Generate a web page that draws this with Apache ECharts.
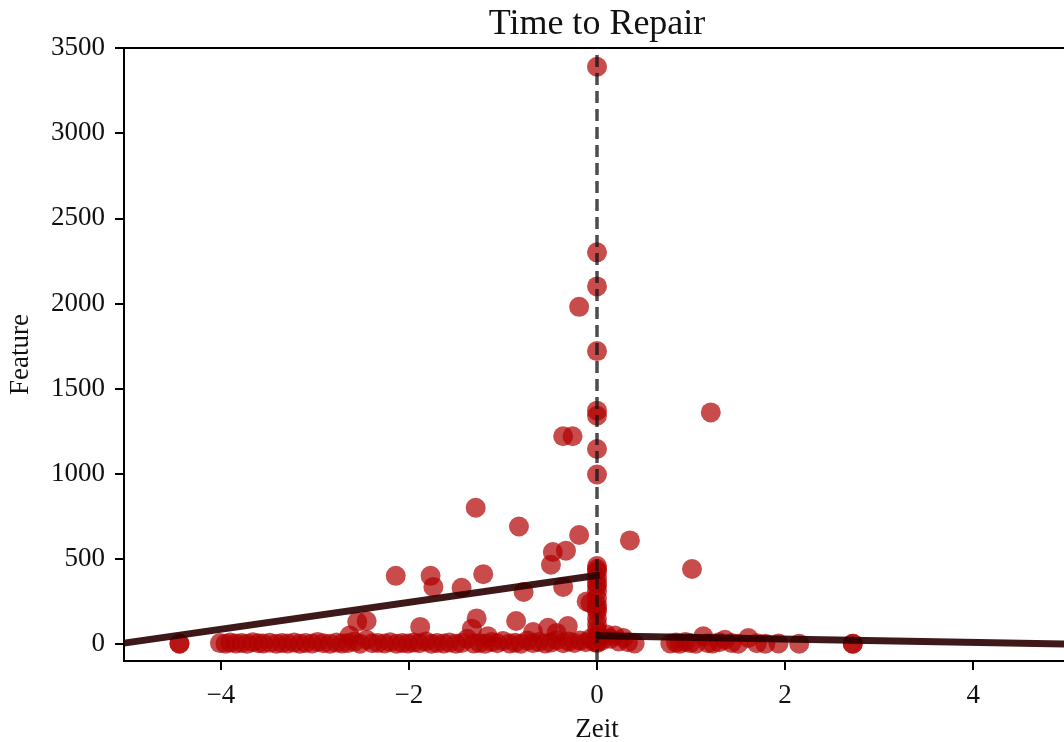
<!DOCTYPE html>
<html>
<head>
<meta charset="utf-8">
<script src="https://cdn.jsdelivr.net/npm/echarts@6/dist/echarts.min.js"></script>
<style>html,body{margin:0;padding:0;background:#fff}#c{width:1064px;height:742px}</style>
</head>
<body>
<div id="c"></div>
<script>
// ---- data ----
const titleText = 'Time to Repair';
const xLabel = 'Zeit';
const yLabel = 'Feature';

// scatter points (Zeit, Feature)
const pointsX = [
  0, 0, 0, -0.19, 0, 0, 0, 1.21, -0.36, -0.26, 0, 0,
  -1.29, -0.83, -0.19, 0.35, 1.01, -0.47, -0.33, -0.49,
  -2.14, -1.77, -1.74, -1.21, -1.44, -0.36, -0.78, -0.11, -0.07,
  -2.55, -2.45, -1.28, -1.88, -0.86, -1.33, -1.16, -0.68, -0.52, -0.31, -0.43, -2.63,
  0, 0, 0, 0, 0, 0, 0, 0, 0, 0, 0, 0, 0, 0, 0, 0, 0, 0,
  0.03, 0.05, 0.1, 0.14, 0.19, 0.23, 0.28, 0.33, 0.4,
  0.78, 0.84, 0.88, 0.94, 0.99, 1.05, 1.13, 1.18, 1.23, 1.3, 1.36, 1.43, 1.5, 1.61, 1.7, 1.79, 1.93, 2.15, 2.72, 2.72,
  -4.44, -4.44, -4.01, -3.95, -3.9, -3.84, -3.78, -3.72, -3.66, -3.6, -3.55, -3.48, -3.41, -3.35, -3.29, -3.22,
  -3.16, -3.1, -3.03, -2.97, -2.91, -2.84, -2.77, -2.71, -2.65, -2.58, -2.52, -2.45, -2.39, -2.33, -2.26,
  -2.2, -2.13, -2.07, -2.01, -1.95, -1.89, -1.82, -1.76, -1.7, -1.63, -1.57, -1.5, -1.44, -1.38, -1.31,
  -1.25, -1.19, -1.12, -1.06, -1.0, -0.93, -0.87, -0.81, -0.74, -0.68, -0.62, -0.55, -0.49, -0.43,
  -0.36, -0.3, -0.24, -0.18, -0.12, -0.07, -0.03
];
const pointsY = [
  3390, 2300, 2100, 1980, 1720, 1370, 1340, 1360, 1220, 1220, 1145, 995,
  800, 690, 640, 608, 440, 540, 548, 465,
  400, 400, 335, 410, 330, 335, 305, 250, 240,
  130, 135, 150, 100, 135, 90, 45, 70, 95, 105, 65, 50,
  458, 440, 425, 390, 360, 340, 310, 270, 230, 210, 190, 150, 115, 80, 50, 25, 12, 5,
  40, 20, 55, 30, 50, 15, 35, 10, 3,
  3, 8, 2, 12, 5, 2, 45, 4, 3, 10, 25, 6, 2, 35, 4, 2, 3, 2, 1, 2,
  2, 3, 5, 2, 8, 3, 6, 2, 10, 4, 3, 7, 2, 5, 3, 9,
  2, 6, 3, 12, 4, 2, 8, 3, 5, 14, 2, 25, 4, 6, 3,
  10, 2, 5, 3, 8, 4, 15, 2, 6, 3, 9, 2, 5, 30, 3,
  6, 2, 12, 4, 18, 3, 7, 2, 20, 5, 12, 3, 8, 22,
  4, 15, 6, 20, 10, 30, 12
];

// fitted lines (left and right of the cutoff)
const fitLeftX = [-5.03, 0.03];
const fitLeftY = [5, 405];
const fitRightX = [0, 5.03];
const fitRightY = [48, -1];

// cutoff line
const cutoffX = [0, 0];
const cutoffY = [-100, 3500];

// axis settings
const xMin = -5.03, xMax = 5.03;
const xTicks = [-4, -2, 0, 2, 4];
const yMin = -100, yMax = 3500;
const yTicks = [0, 500, 1000, 1500, 2000, 2500, 3000, 3500];

const zip = (a, b) => a.map((v, i) => [v, b[i]]);
const fmtNum = v => (v < 0 ? '\u2212' + Math.abs(v) : String(v));

const FONT = '"Liberation Serif", "DejaVu Serif", serif';

const chart = echarts.init(document.getElementById('c'), null, {renderer: 'canvas'});
chart.setOption({
  animation: false,
  backgroundColor: '#ffffff',
  title: {
    text: titleText, left: 592, top: 2, textAlign: 'center',
    textStyle: {fontFamily: FONT, fontSize: 36, fontWeight: 'normal', color: '#111'}
  },
  grid: {left: 124, top: 48, width: 946, height: 613, outerBoundsMode: 'none', containLabel: false,
         show: true, borderColor: '#000', borderWidth: 2, backgroundColor: 'transparent'},
  xAxis: {
    type: 'value', min: xMin, max: xMax,
    name: xLabel, nameLocation: 'middle', nameGap: 55,
    nameTextStyle: {fontFamily: FONT, fontSize: 27, color: '#111'},
    axisLine: {onZero: false, lineStyle: {color: '#000', width: 2}},
    axisTick: {show: true, length: 9, customValues: xTicks, lineStyle: {color: '#000', width: 2}},
    axisLabel: {
      fontFamily: FONT, fontSize: 27, color: '#111', margin: 21,
      customValues: xTicks, formatter: v => fmtNum(v)
    },
    splitLine: {show: false}
  },
  yAxis: {
    type: 'value', min: yMin, max: yMax,
    name: yLabel, nameLocation: 'middle', nameGap: 90,
    nameTextStyle: {fontFamily: FONT, fontSize: 27, color: '#111'},
    axisLine: {onZero: false, lineStyle: {color: '#000', width: 2}},
    axisTick: {show: true, length: 9, customValues: yTicks, lineStyle: {color: '#000', width: 2}},
    axisLabel: {
      fontFamily: FONT, fontSize: 27, color: '#111', margin: 19, padding: [5, 0, 0, 0],
      customValues: yTicks, formatter: v => fmtNum(v)
    },
    splitLine: {show: false}
  },
  series: [
    {
      type: 'scatter', data: zip(pointsX, pointsY), symbolSize: 20,
      itemStyle: {color: '#b00000', opacity: 0.7}, z: 2, silent: true
    },
    {
      type: 'line', data: zip(fitLeftX, fitLeftY), showSymbol: false, symbol: 'none',
      lineStyle: {color: '#2a0000', width: 7, opacity: 0.9, cap: 'butt'}, z: 4, silent: true
    },
    {
      type: 'line', data: zip(fitRightX, fitRightY), showSymbol: false, symbol: 'none',
      lineStyle: {color: '#2a0000', width: 7, opacity: 0.9, cap: 'butt'}, z: 4, silent: true
    },
    {
      type: 'line', data: zip(cutoffX, cutoffY), showSymbol: false, symbol: 'none',
      lineStyle: {color: '#111', width: 3.5, opacity: 0.75, type: [12, 6]}, z: 5, silent: true
    }
  ]
});
</script>
</body>
</html>
